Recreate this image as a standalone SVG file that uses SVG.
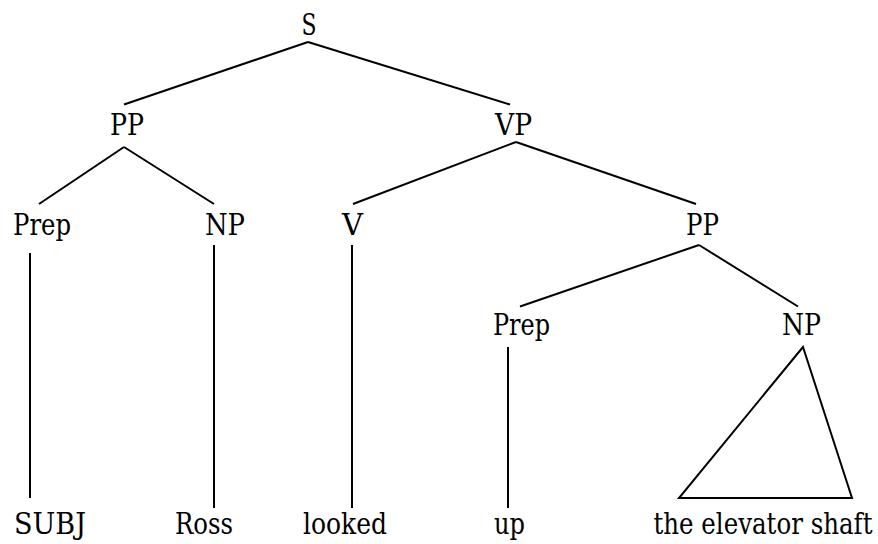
<svg xmlns="http://www.w3.org/2000/svg" width="878" height="544" viewBox="0 0 878 544">
  <style>
    .lbl { font-family: "DejaVu Serif Condensed", "DejaVu Serif", serif; font-stretch: condensed; font-size: 29px; fill: #000; text-anchor: middle; }
    .edge { stroke: #000; stroke-width: 2; fill: none; stroke-linecap: butt; }
  </style>
  <rect width="878" height="544" fill="#fff"/>

  <!-- branches of the parse tree -->
  <g id="connectors">
    <line class="edge" x1="308" y1="42" x2="124" y2="104.5"/>
    <line class="edge" x1="308" y1="42" x2="510" y2="104.5"/>
    <line class="edge" x1="124" y1="147" x2="39" y2="204"/>
    <line class="edge" x1="124" y1="147" x2="214" y2="204"/>
    <line class="edge" x1="516" y1="142" x2="353" y2="204"/>
    <line class="edge" x1="516" y1="142" x2="696" y2="204"/>
    <line class="edge" x1="699" y1="245" x2="520" y2="306.5"/>
    <line class="edge" x1="699" y1="245" x2="798" y2="306.5"/>
    <line class="edge" x1="30" y1="253" x2="30" y2="498"/>
    <line class="edge" x1="214" y1="245" x2="214" y2="508"/>
    <line class="edge" x1="352" y1="245" x2="352" y2="508"/>
    <line class="edge" x1="508" y1="347" x2="508" y2="508"/>
    <polygon class="edge" points="803,347 679,498 852,498" stroke-linejoin="miter"/>
  </g>

  <!-- category nodes -->
  <g id="node-S"><text class="lbl" x="309" y="35" textLength="15" lengthAdjust="spacingAndGlyphs">S</text></g>
  <g id="node-PP1"><text class="lbl" x="127" y="135" textLength="34" lengthAdjust="spacingAndGlyphs">PP</text></g>
  <g id="node-VP"><text class="lbl" x="513.5" y="135" textLength="37" lengthAdjust="spacingAndGlyphs">VP</text></g>
  <g id="node-Prep1"><text class="lbl" x="42" y="235" textLength="58" lengthAdjust="spacingAndGlyphs">Prep</text></g>
  <g id="node-NP1"><text class="lbl" x="225" y="235" textLength="40" lengthAdjust="spacingAndGlyphs">NP</text></g>
  <g id="node-V"><text class="lbl" x="352.5" y="235" textLength="21" lengthAdjust="spacingAndGlyphs">V</text></g>
  <g id="node-PP2"><text class="lbl" x="702.5" y="235" textLength="33" lengthAdjust="spacingAndGlyphs">PP</text></g>
  <g id="node-Prep2"><text class="lbl" x="521.5" y="335" textLength="57" lengthAdjust="spacingAndGlyphs">Prep</text></g>
  <g id="node-NP2"><text class="lbl" x="801.5" y="335" textLength="39" lengthAdjust="spacingAndGlyphs">NP</text></g>

  <!-- terminal words -->
  <g id="word-SUBJ"><text class="lbl" x="50" y="534" textLength="72" lengthAdjust="spacingAndGlyphs">SUBJ</text></g>
  <g id="word-Ross"><text class="lbl" x="204" y="534" textLength="58" lengthAdjust="spacingAndGlyphs">Ross</text></g>
  <g id="word-looked"><text class="lbl" x="345" y="534" textLength="84" lengthAdjust="spacingAndGlyphs">looked</text></g>
  <g id="word-up"><text class="lbl" x="509.5" y="534" textLength="31" lengthAdjust="spacingAndGlyphs">up</text></g>
  <g id="word-shaft"><text class="lbl" x="872.5" y="534" text-anchor="end" style="text-anchor:end" textLength="219" lengthAdjust="spacingAndGlyphs">the elevator shaft</text></g>
</svg>
